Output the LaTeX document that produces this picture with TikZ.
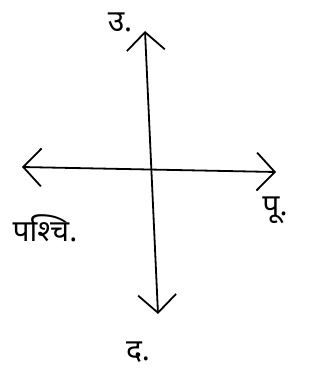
\documentclass[tikz,border=0pt]{standalone}
\usepackage{fontspec}
\newfontfamily\devfont[Script=Devanagari]{Noto Sans}
\usetikzlibrary{arrows.meta}
\begin{document}
\begin{tikzpicture}[x=1pt,y=-1pt,
  axis/.style={line width=1.8pt, line cap=round, {Straight Barb[length=18pt,width=38pt,line width=1.8pt]}-{Straight Barb[length=18pt,width=38pt,line width=1.8pt]}},
  dirlabel/.style={font=\devfont\fontsize{30}{32}\selectfont, inner sep=1pt}]
\useasboundingbox (0,0) rectangle (320,382);
\coordinate (n) at (145,31);
\coordinate (s) at (158,314);
\coordinate (w) at (22,167);
\coordinate (e) at (276,172);
\draw[axis] (s) -- (n);
\draw[axis] (w) -- (e);
\node[dirlabel] (ulabel) at (120,22) {उ.};
\node[dirlabel] (plabel) at (275,210) {पू.};
\node[dirlabel] (wlabel) at (45,228) {पश्चि.};
\node[dirlabel] (dlabel) at (138,352) {द.};
\end{tikzpicture}
\end{document}
